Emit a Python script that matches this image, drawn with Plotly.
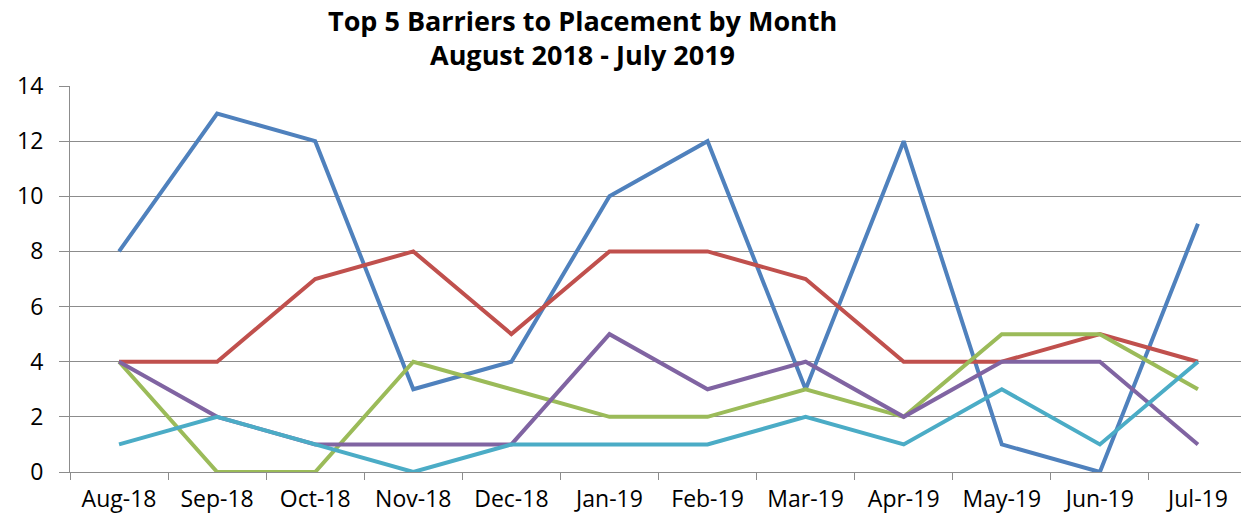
import plotly.graph_objects as go

# ---------------------------------------------------------------------------
# Data
# ---------------------------------------------------------------------------
months = ["Aug-18", "Sep-18", "Oct-18", "Nov-18", "Dec-18", "Jan-19",
          "Feb-19", "Mar-19", "Apr-19", "May-19", "Jun-19", "Jul-19"]

barrier_1 = [8, 13, 12, 3, 4, 10, 12, 3, 12, 1, 0, 9]
barrier_2 = [4, 4, 7, 8, 5, 8, 8, 7, 4, 4, 5, 4]
barrier_3 = [4, 0, 0, 4, 3, 2, 2, 3, 2, 5, 5, 3]
barrier_4 = [4, 2, 1, 1, 1, 5, 3, 4, 2, 4, 4, 1]
barrier_5 = [1, 2, 1, 0, 1, 1, 1, 2, 1, 3, 1, 4]

series = [
    ("Barrier 1", barrier_1, "#4F81BD"),
    ("Barrier 2", barrier_2, "#C0504D"),
    ("Barrier 3", barrier_3, "#9BBB59"),
    ("Barrier 4", barrier_4, "#8064A2"),
    ("Barrier 5", barrier_5, "#4BACC6"),
]

title_lines = ["Top 5 Barriers to Placement by Month", "August 2018 - July 2019"]

FONT = "Open Sans, Liberation Sans, sans-serif"

# page body adds an 8px offset, so margins are shifted to compensate
L, R, T, B = 62, 10, 78, 59
W, H = 1249, 523
plot_h = H - T - B
plot_w = W - L - R


def to_paper_y(px):
    return (H - B - px) / plot_h


def to_paper_x(px):
    return (px - L) / plot_w


fig = go.Figure()
for name, vals, color in series:
    fig.add_trace(go.Scatter(
        x=months, y=vals, mode="lines", name=name,
        line=dict(color=color, width=4),
    ))

for text, py in zip(title_lines, [12, 47]):
    fig.add_annotation(
        text=f"<b>{text}</b>", showarrow=False,
        xref="paper", yref="paper",
        x=to_paper_x(574), y=to_paper_y(py),
        xanchor="center", yanchor="middle",
        font=dict(family=FONT, size=27, color="#000000"),
    )

fig.update_layout(
    width=W, height=H,
    margin=dict(l=L, r=R, t=T, b=B),
    paper_bgcolor="white", plot_bgcolor="white",
    showlegend=False,
    font=dict(family=FONT, size=23, color="#000000"),
)

fig.update_xaxes(
    type="category", range=[-0.5, 11.5],
    showgrid=False, showline=True, linecolor="#8C8C8C", linewidth=1,
    ticks="outside", ticklen=7, tickcolor="#8C8C8C",
    tickson="boundaries", ticklabelstandoff=6,
    zeroline=False,
)
fig.update_yaxes(
    range=[0, 14], dtick=2,
    showgrid=True, gridcolor="#8C8C8C", gridwidth=1,
    showline=True, linecolor="#8C8C8C", linewidth=1,
    ticks="outside", ticklen=10, tickcolor="#8C8C8C",
    zeroline=False, ticklabelstandoff=11,
)

fig.write_html("out.html")
